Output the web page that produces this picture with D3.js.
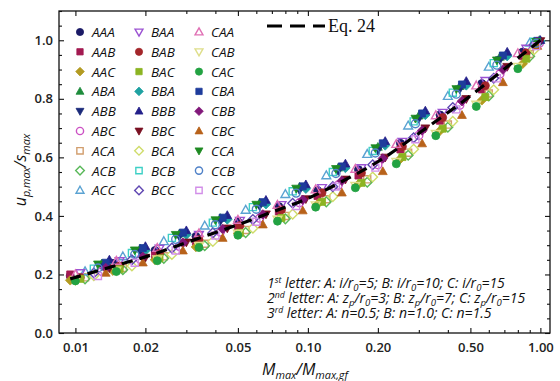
<!DOCTYPE html>
<html>
<head>
<meta charset="utf-8">
<script src="https://cdn.jsdelivr.net/npm/d3@7"></script>
<style>
  body { margin: 0; background: #fff; }
  svg text { font-family: "Open Sans", sans-serif; fill: #111; }
  svg text.serif { font-family: "Liberation Serif", serif; }
</style>
</head>
<body>
<svg id="chart" width="560" height="381"></svg>
<script>
// ---- data ----
// load steps (x) shared by the three cases that have the same first two letters
const xAA = [0.0095, 0.0145, 0.022, 0.033, 0.05, 0.075, 0.11, 0.165, 0.25, 0.37, 0.56, 0.84];
const xAB = [0.013, 0.019, 0.028, 0.042, 0.062, 0.092, 0.135, 0.2, 0.3, 0.45, 0.67, 0.99];
const xAC = [0.011, 0.016, 0.024, 0.036, 0.054, 0.08, 0.12, 0.18, 0.27, 0.4, 0.6, 0.9];
const xBA = [0.0105, 0.0155, 0.023, 0.034, 0.051, 0.077, 0.115, 0.17, 0.255, 0.38, 0.58, 0.87];
const xBB = [0.014, 0.02, 0.03, 0.045, 0.066, 0.098, 0.145, 0.215, 0.32, 0.48, 0.72, 1.0];
const xBC = [0.012, 0.0175, 0.026, 0.039, 0.058, 0.086, 0.128, 0.19, 0.285, 0.42, 0.63, 0.94];
const xCA = [0.01, 0.015, 0.0225, 0.034, 0.05, 0.074, 0.108, 0.16, 0.24, 0.355, 0.53, 0.8];
const xCB = [0.0135, 0.0195, 0.029, 0.043, 0.064, 0.095, 0.14, 0.21, 0.31, 0.46, 0.69, 0.97];
const xCC = [0.0125, 0.018, 0.027, 0.04, 0.06, 0.089, 0.132, 0.195, 0.29, 0.435, 0.65, 0.96];

const yAAA = [0.195, 0.238, 0.282, 0.33, 0.38, 0.432, 0.487, 0.558, 0.648, 0.745, 0.852, 0.96];
const yAAB = [0.2, 0.222, 0.265, 0.312, 0.362, 0.415, 0.468, 0.538, 0.627, 0.725, 0.832, 0.946];
const yAAC = [0.18, 0.213, 0.25, 0.294, 0.34, 0.39, 0.44, 0.508, 0.595, 0.691, 0.795, 0.92];
const yABA = [0.237, 0.288, 0.339, 0.392, 0.444, 0.498, 0.564, 0.635, 0.742, 0.843, 0.943, 1.0];
const yABB = [0.228, 0.279, 0.33, 0.382, 0.434, 0.488, 0.554, 0.624, 0.732, 0.833, 0.933, 0.995];
const yABC = [0.21, 0.252, 0.296, 0.345, 0.392, 0.445, 0.505, 0.575, 0.675, 0.778, 0.885, 0.99];
const yACA = [0.19, 0.222, 0.262, 0.305, 0.352, 0.4, 0.457, 0.525, 0.616, 0.712, 0.818, 0.953];
const yACB = [0.185, 0.216, 0.255, 0.298, 0.343, 0.39, 0.448, 0.515, 0.607, 0.703, 0.81, 0.945];
const yACC = [0.21, 0.261, 0.313, 0.366, 0.42, 0.474, 0.538, 0.611, 0.708, 0.809, 0.909, 0.991];
const yBAA = [0.205, 0.246, 0.289, 0.336, 0.384, 0.438, 0.496, 0.564, 0.654, 0.753, 0.862, 0.972];
const yBAB = [0.19, 0.229, 0.272, 0.319, 0.367, 0.421, 0.479, 0.547, 0.637, 0.736, 0.845, 0.957];
const yBAC = [0.185, 0.218, 0.255, 0.298, 0.342, 0.393, 0.448, 0.513, 0.601, 0.698, 0.806, 0.937];
const yBBA = [0.236, 0.282, 0.336, 0.388, 0.44, 0.493, 0.564, 0.641, 0.745, 0.846, 0.946, 0.997];
const yBBB = [0.25, 0.296, 0.35, 0.402, 0.454, 0.507, 0.578, 0.655, 0.759, 0.86, 0.96, 1.0];
const yBBC = [0.222, 0.258, 0.31, 0.358, 0.406, 0.458, 0.525, 0.6, 0.7, 0.8, 0.91, 0.998];
const yBCA = [0.196, 0.229, 0.268, 0.313, 0.358, 0.406, 0.466, 0.533, 0.628, 0.723, 0.831, 0.968];
const yBCB = [0.22, 0.273, 0.325, 0.377, 0.43, 0.484, 0.55, 0.622, 0.723, 0.821, 0.922, 0.995];
const yBCC = [0.205, 0.25, 0.29, 0.342, 0.388, 0.443, 0.5, 0.575, 0.667, 0.77, 0.87, 0.985];
const yCAA = [0.2, 0.246, 0.29, 0.34, 0.386, 0.437, 0.49, 0.56, 0.645, 0.743, 0.845, 0.955];
const yCAB = [0.18, 0.214, 0.252, 0.298, 0.34, 0.388, 0.437, 0.503, 0.585, 0.681, 0.781, 0.91];
const yCAC = [0.178, 0.21, 0.247, 0.292, 0.334, 0.382, 0.43, 0.496, 0.578, 0.674, 0.774, 0.903];
const yCBA = [0.24, 0.29, 0.343, 0.394, 0.447, 0.501, 0.569, 0.648, 0.75, 0.849, 0.948, 0.998];
const yCBB = [0.222, 0.26, 0.308, 0.355, 0.405, 0.455, 0.52, 0.596, 0.692, 0.792, 0.9, 0.995];
const yCBC = [0.205, 0.24, 0.281, 0.324, 0.37, 0.418, 0.479, 0.552, 0.647, 0.744, 0.856, 0.98];
const yCCA = [0.235, 0.283, 0.336, 0.386, 0.439, 0.494, 0.561, 0.632, 0.733, 0.834, 0.932, 0.995];
const yCCB = [0.222, 0.268, 0.32, 0.37, 0.423, 0.478, 0.545, 0.615, 0.715, 0.816, 0.915, 0.99];
const yCCC = [0.195, 0.24, 0.282, 0.333, 0.38, 0.434, 0.5, 0.565, 0.662, 0.764, 0.87, 0.98];

// Eq. 24 curve
const eqX = [0.0095, 0.01, 0.015, 0.02, 0.03, 0.05, 0.07, 0.1, 0.15, 0.2, 0.3, 0.5, 0.7, 1.0];
const eqY = [0.185, 0.19, 0.231, 0.26, 0.309, 0.37, 0.413, 0.46, 0.53, 0.585, 0.682, 0.81, 0.902, 1.0];

const seriesNames = ["AAA", "AAB", "AAC", "ABA", "ABB", "ABC", "ACA", "ACB", "ACC",
                     "BAA", "BAB", "BAC", "BBA", "BBB", "BBC", "BCA", "BCB", "BCC",
                     "CAA", "CAB", "CAC", "CBA", "CBB", "CBC", "CCA", "CCB", "CCC"];
const xTicks = [0.01, 0.02, 0.05, 0.1, 0.2, 0.5, 1.0];
const xTickLabels = ["0.01", "0.02", "0.05", "0.10", "0.20", "0.50", "1.00"];
const xMinorTicks = [0.03, 0.04, 0.06, 0.07, 0.08, 0.09, 0.3, 0.4, 0.6, 0.7, 0.8, 0.9];
const yTicks = [0, 0.2, 0.4, 0.6, 0.8, 1.0];
const yMinorTicks = [0.05, 0.1, 0.15, 0.25, 0.3, 0.35, 0.45, 0.5, 0.55, 0.65, 0.7, 0.75, 0.85, 0.9, 0.95, 1.05, 1.1];
const noteLines = [
  "1^{st} letter: A: i/r_{0}=5; B: i/r_{0}=10; C: i/r_{0}=15",
  "2^{nd} letter: A: z_{p}/r_{0}=3; B: z_{p}/r_{0}=7; C: z_{p}/r_{0}=15",
  "3^{rd} letter: A: n=0.5; B: n=1.0; C: n=1.5"
];

const xByPrefix = { AA: xAA, AB: xAB, AC: xAC, BA: xBA, BB: xBB, BC: xBC, CA: xCA, CB: xCB, CC: xCC };
const yByName = { AAA: yAAA, AAB: yAAB, AAC: yAAC, ABA: yABA, ABB: yABB, ABC: yABC, ACA: yACA, ACB: yACB, ACC: yACC,
                  BAA: yBAA, BAB: yBAB, BAC: yBAC, BBA: yBBA, BBB: yBBB, BBC: yBBC, BCA: yBCA, BCB: yBCB, BCC: yBCC,
                  CAA: yCAA, CAB: yCAB, CAC: yCAC, CBA: yCBA, CBB: yCBB, CBC: yCBC, CCA: yCCA, CCB: yCCB, CCC: yCCC };

// marker styles: [shape, colour, filled]
const markerStyle = {
  AAA: ["circle", "#1b1a66", true],  AAB: ["square", "#a31a52", true],  AAC: ["diamond", "#b39b22", true],
  ABA: ["up", "#1e8c3c", true],      ABB: ["down", "#1a2a7a", true],    ABC: ["circle", "#cc52c4", false],
  ACA: ["square", "#d29e6e", false], ACB: ["diamond", "#58b858", false], ACC: ["up", "#5aa2d2", false],
  BAA: ["down", "#9b52d2", false],   BAB: ["circle", "#a3262a", true],  BAC: ["square", "#8cb422", true],
  BBA: ["diamond", "#1fa2a2", true], BBB: ["up", "#23208a", true],      BBC: ["down", "#7a1022", true],
  BCA: ["diamond", "#cfdc6a", false], BCB: ["square", "#3ed0c6", false], BCC: ["diamond", "#6048b2", false],
  CAA: ["up", "#e070b4", false],     CAB: ["down", "#dede8a", false],   CAC: ["circle", "#22a242", true],
  CBA: ["square", "#1e3c9c", true],  CBB: ["diamond", "#82187a", true], CBC: ["up", "#b8621a", true],
  CCA: ["down", "#1e8a22", true],    CCB: ["circle", "#5082c8", false], CCC: ["square", "#d28ee8", false]
};

const width = 560, height = 381;
const margin = { top: 11, right: 10, bottom: 48, left: 59 };
const plotW = width - margin.left - margin.right;
const plotH = height - margin.top - margin.bottom;

const svg = d3.select("#chart");
const xScale = d3.scaleLog().domain([0.0085, 1.1]).range([margin.left, margin.left + plotW]);
const yScale = d3.scaleLinear().domain([0, 1.1]).range([margin.top + plotH, margin.top]);

function markerPath(shape, r) {
  switch (shape) {
    case "circle": return `M${r},0A${r},${r},0,1,1,${-r},0A${r},${r},0,1,1,${r},0Z`;
    case "square": { const s = r * 0.88; return `M${-s},${-s}H${s}V${s}H${-s}Z`; }
    case "diamond": { const s = r * 1.2; return `M0,${-s}L${s},0L0,${s}L${-s},0Z`; }
    case "up": return `M0,${-r * 1.15}L${r * 1.1},${r * 0.8}L${-r * 1.1},${r * 0.8}Z`;
    case "down": return `M0,${r * 1.15}L${r * 1.1},${-r * 0.8}L${-r * 1.1},${-r * 0.8}Z`;
  }
}

function drawMarker(g, name, r) {
  const [shape, color, filled] = markerStyle[name];
  return g.append("path")
    .attr("d", markerPath(shape, r))
    .attr("fill", filled ? color : "none")
    .attr("stroke", color)
    .attr("stroke-width", filled ? 0.8 : 1.4);
}

// text with ^{sup} and _{sub}
function richText(sel, str, fs) {
  const parts = str.split(/(\^\{[^}]*\}|_\{[^}]*\})/).filter(s => s.length);
  let shift = 0;
  parts.forEach(p => {
    let t = p, d = 0, size = null;
    if (p.startsWith("^{")) { t = p.slice(2, -1); d = -fs * 0.38; size = fs * 0.62; }
    else if (p.startsWith("_{")) { t = p.slice(2, -1); d = fs * 0.22; size = fs * 0.68; }
    const ts = sel.append("tspan").text(t).attr("dy", d - shift);
    if (size) ts.attr("font-size", size);
    shift = d;
  });
}

// ---- axes (ticks point inward, mirrored on top/right) ----
const axisStyle = g => {
  g.select(".domain").remove();
  g.selectAll("line").attr("stroke", "#111").attr("stroke-width", 1.1);
};
const tickFont = g => g.selectAll("text")
  .attr("font-size", 13).attr("font-weight", 600).style("fill", "#222");

svg.append("g")
  .attr("transform", `translate(0,${margin.top + plotH})`)
  .call(d3.axisBottom(xScale).tickValues(xTicks).tickSize(-5).tickPadding(10)
    .tickFormat((d, i) => xTickLabels[i]))
  .call(axisStyle).call(tickFont);
svg.append("g")
  .attr("transform", `translate(0,${margin.top + plotH})`)
  .call(d3.axisBottom(xScale).tickValues(xMinorTicks).tickSize(-3).tickFormat(""))
  .call(axisStyle);
svg.append("g")
  .attr("transform", `translate(0,${margin.top})`)
  .call(d3.axisTop(xScale).tickValues(xTicks).tickSize(-5).tickFormat(""))
  .call(axisStyle);
svg.append("g")
  .attr("transform", `translate(0,${margin.top})`)
  .call(d3.axisTop(xScale).tickValues(xMinorTicks).tickSize(-3).tickFormat(""))
  .call(axisStyle);

svg.append("g")
  .attr("transform", `translate(${margin.left},0)`)
  .call(d3.axisLeft(yScale).tickValues(yTicks).tickSize(-5).tickPadding(6).tickFormat(d3.format(".1f")))
  .call(axisStyle).call(tickFont);
svg.append("g")
  .attr("transform", `translate(${margin.left},0)`)
  .call(d3.axisLeft(yScale).tickValues(yMinorTicks).tickSize(-3).tickFormat(""))
  .call(axisStyle);
svg.append("g")
  .attr("transform", `translate(${margin.left + plotW},0)`)
  .call(d3.axisRight(yScale).tickValues(yTicks).tickSize(-5).tickFormat(""))
  .call(axisStyle);
svg.append("g")
  .attr("transform", `translate(${margin.left + plotW},0)`)
  .call(d3.axisRight(yScale).tickValues(yMinorTicks).tickSize(-3).tickFormat(""))
  .call(axisStyle);

// frame
svg.append("rect")
  .attr("x", margin.left).attr("y", margin.top)
  .attr("width", plotW).attr("height", plotH)
  .attr("fill", "none").attr("stroke", "#111").attr("stroke-width", 1.3);

// ---- data markers ----
const points = svg.append("g").attr("class", "points");
seriesNames.forEach(name => {
  const xs = xByPrefix[name.slice(0, 2)];
  const ys = yByName[name];
  const g = points.append("g").attr("class", "series-" + name);
  ys.forEach((yv, i) => {
    drawMarker(g, name, 4)
      .attr("transform", `translate(${xScale(xs[i])},${yScale(yv)})`);
  });
});

// Eq. 24
const eqLine = d3.line()
  .x((d, i) => xScale(eqX[i]))
  .y(d => yScale(d))
  .curve(d3.curveMonotoneX);
svg.append("path")
  .datum(eqY)
  .attr("d", eqLine)
  .attr("fill", "none")
  .attr("stroke", "#000")
  .attr("stroke-width", 3.2)
  .attr("stroke-dasharray", "11,7");

// ---- legend ----
const legend = svg.append("g").attr("class", "legend");
const colX = [80, 139, 199];
seriesNames.forEach((name, i) => {
  const col = Math.floor(i / 9), row = i % 9;
  const ly = 32 + row * 19.8;
  drawMarker(legend, name, 3.6).attr("transform", `translate(${colX[col]},${ly})`);
  legend.append("text")
    .attr("x", colX[col] + 12).attr("y", ly + 5)
    .attr("font-size", 13.5).attr("font-style", "italic")
    .text(name);
});

legend.append("line")
  .attr("x1", 267).attr("x2", 325).attr("y1", 26).attr("y2", 26)
  .attr("stroke", "#000").attr("stroke-width", 3.2).attr("stroke-dasharray", "15,8");
legend.append("text")
  .attr("class", "serif")
  .attr("x", 328).attr("y", 32)
  .attr("font-size", 18)
  .text("Eq. 24");

// ---- note ----
noteLines.forEach((line, i) => {
  const t = svg.append("text")
    .attr("x", 267).attr("y", 288 + i * 15)
    .attr("font-size", 14).attr("font-style", "italic");
  richText(t, line, 14);
});

// ---- axis titles ----
const yTitle = svg.append("text")
  .attr("transform", "translate(26,170) rotate(-90)")
  .attr("text-anchor", "middle")
  .attr("font-size", 16).attr("font-style", "italic");
richText(yTitle, "u_{p,max}/s_{max}", 16);

const xTitle = svg.append("text")
  .attr("x", 305).attr("y", 375)
  .attr("text-anchor", "middle")
  .attr("font-size", 16).attr("font-style", "italic");
richText(xTitle, "M_{max}/M_{max,gf}", 16);
</script>
</body>
</html>
